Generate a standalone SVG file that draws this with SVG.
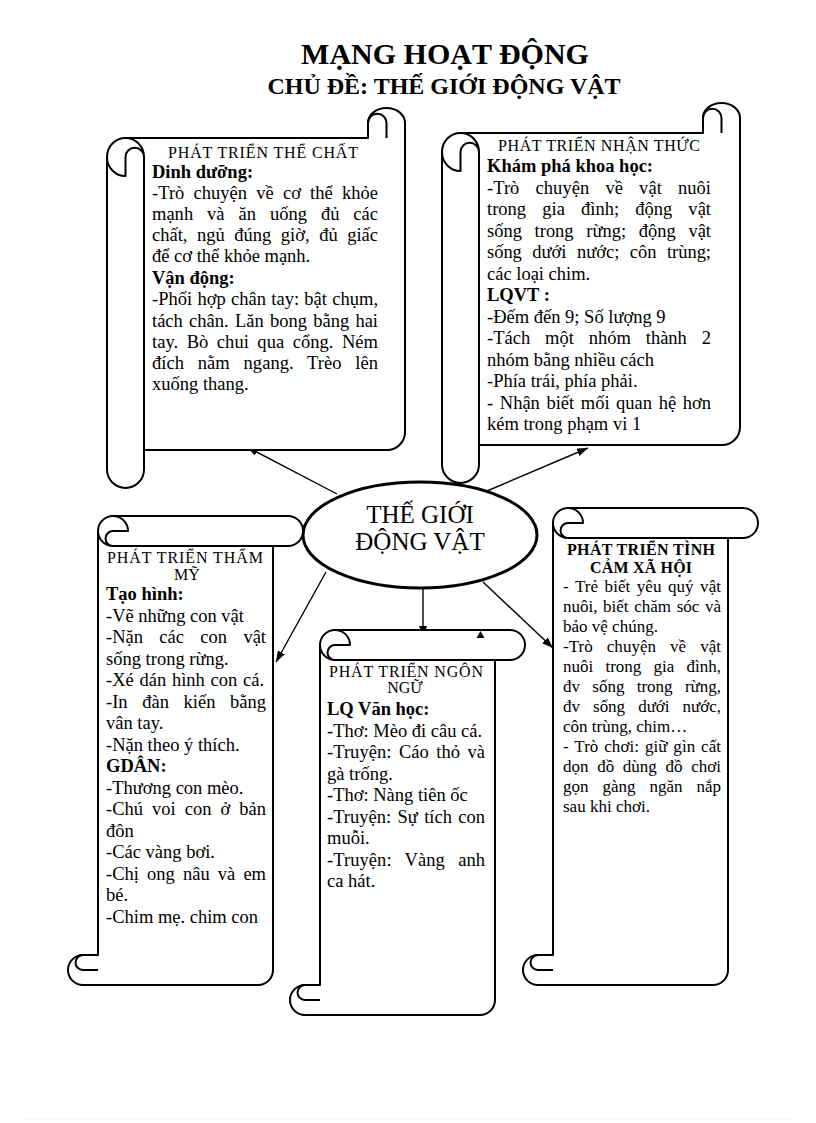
<svg xmlns="http://www.w3.org/2000/svg" xmlns:xlink="http://www.w3.org/1999/xlink" width="816" height="1123" viewBox="0 0 816 1123">
<style>
.sc{fill:#fff;stroke:#000;stroke-width:2;stroke-linejoin:round}
.ln{fill:none;stroke:#000;stroke-width:2;stroke-linejoin:round}
.cn{fill:none;stroke:#000;stroke-width:1.4}
text{font-family:"Liberation Serif","Times New Roman",serif;fill:#000}
.t{font-size:18.5px}
.s{font-size:17px}
.b{font-weight:bold}
.h{font-size:16px}
.c{text-anchor:middle}
</style>
<defs>
<marker id="ah" markerUnits="userSpaceOnUse" markerWidth="11" markerHeight="8" refX="11" refY="4" orient="auto">
<path d="M0,0 L11,4 L0,8 Z" fill="#000"/>
</marker>
<g id="vs">
<path class="sc" d="M18.5,30 H261 V15 A18.5,15 0 0 1 298,15 V324 A18,18 0 0 1 280,342 H37 V361.5 A18.5,18.5 0 0 1 0,361.5 V49 A18.5,19 0 0 1 18.5,30 Z"/>
<path class="ln" d="M37,49 V361.5 M18.5,30 A18.5,19 0 0 1 37,49 M0,49 A18.5,19 0 0 0 18.5,68 V49 A9.25,9.25 0 0 1 37,49 M279.5,30 V15 A9.25,9.25 0 0 0 261,15"/>
</g>
</defs>
<rect width="816" height="1123" fill="#fff"/>
<line x1="25" y1="1119" x2="795" y2="1119" stroke="#d8d8d8" stroke-width="1" stroke-dasharray="1 3"/>

<g id="title">
<text class="b c" x="445" y="64" font-size="30">MẠNG HOẠT ĐỘNG</text>
<text class="b c" x="444" y="94" font-size="24">CHỦ ĐỀ: THẾ GIỚI ĐỘNG VẬT</text>
</g>

<g id="connectors">
<path class="cn" d="M337,494 L247,447" marker-end="url(#ah)"/>
<path class="cn" d="M487,491 L588,448" marker-end="url(#ah)"/>
<path class="cn" d="M326,572 L276,662" marker-end="url(#ah)"/>
<path class="cn" d="M423,589 L423,637" marker-end="url(#ah)"/>
<path class="cn" d="M483,582 L553,648" marker-end="url(#ah)"/>
</g>

<g id="node-the-chat">
<use xlink:href="#vs" href="#vs" transform="translate(107,108)"/>
<text class="h c" x="263" y="158" textLength="190" lengthAdjust="spacing">PHÁT TRIỂN THỂ CHẤT</text>
<text class="t b" x="152" y="178">Dinh dưỡng:</text>
<text class="t" x="152" y="199" word-spacing="4.5" textLength="226" lengthAdjust="spacing">-Trò chuyện về cơ thể khỏe</text>
<text class="t" x="152" y="220" word-spacing="9.3" textLength="226" lengthAdjust="spacing">mạnh và ăn uống đủ các</text>
<text class="t" x="152" y="241" word-spacing="4.9" textLength="226" lengthAdjust="spacing">chất, ngủ đúng giờ, đủ giấc</text>
<text class="t" x="152" y="262">để cơ thể khỏe mạnh.</text>
<text class="t b" x="152" y="283.5">Vận động:</text>
<text class="t" x="152" y="305" word-spacing="0.7" textLength="226" lengthAdjust="spacing">-Phối hợp chân tay: bật chụm,</text>
<text class="t" x="152" y="326.5" word-spacing="1.6" textLength="226" lengthAdjust="spacing">tách chân. Lăn bong bằng hai</text>
<text class="t" x="152" y="348" word-spacing="3.8" textLength="226" lengthAdjust="spacing">tay. Bò chui qua cổng. Ném</text>
<text class="t" x="152" y="369" word-spacing="9.1" textLength="226" lengthAdjust="spacing">đích nằm ngang. Trèo lên</text>
<text class="t" x="152" y="390">xuống thang.</text>
</g>

<g id="node-nhan-thuc">
<use xlink:href="#vs" href="#vs" transform="translate(442,103)"/>
<text class="h c" x="599" y="151" textLength="202" lengthAdjust="spacing">PHÁT TRIỂN NHẬN THỨC</text>
<text class="t b" x="487" y="172">Khám phá khoa học:</text>
<text class="t" x="487" y="193.5" word-spacing="11.5" textLength="224" lengthAdjust="spacing">-Trò chuyện về vật nuôi</text>
<text class="t" x="487" y="215" word-spacing="11.5" textLength="224" lengthAdjust="spacing">trong gia đình; động vật</text>
<text class="t" x="487" y="236.5" word-spacing="8.1" textLength="224" lengthAdjust="spacing">sống trong rừng; động vật</text>
<text class="t" x="487" y="258" word-spacing="5.9" textLength="224" lengthAdjust="spacing">sống dưới nước; côn trùng;</text>
<text class="t" x="487" y="279.5">các loại chim.</text>
<text class="t b" x="487" y="301">LQVT :</text>
<text class="t" x="487" y="322.5">-Đếm đến 9; Số lượng 9</text>
<text class="t" x="487" y="344" word-spacing="10.3" textLength="224" lengthAdjust="spacing">-Tách một nhóm thành 2</text>
<text class="t" x="487" y="365.5">nhóm bằng nhiều cách</text>
<text class="t" x="487" y="387">-Phía trái, phía phải.</text>
<text class="t" x="487" y="408.5" word-spacing="2" textLength="224" lengthAdjust="spacing">- Nhận biết mối quan hệ hơn</text>
<text class="t" x="487" y="430">kém trong phạm vi 1</text>
</g>

<g id="node-center">
<ellipse cx="420" cy="535" rx="117" ry="53" fill="#fff" stroke="#000" stroke-width="3"/>
<text class="c" x="420" y="523" font-size="25">THẾ GIỚI</text>
<text class="c" x="420" y="550" font-size="25">ĐỘNG VẬT</text>
</g>

<g id="node-tham-my">
<g transform="translate(68,516)">
<path class="sc" d="M30,15 V439 H15 A15,15 0 0 0 15,469 H190 A15,15 0 0 0 205,454 V30 H220 A15,15 0 0 0 220,0 H45 A15,15 0 0 0 30,15 Z"/>
<path class="ln" d="M45,30 H205 M30,15 A15,15 0 0 0 45,30 M45,0 A15,15 0 0 1 60,15 H45 A7.5,7.5 0 0 0 45,30 M30,454 H15 A7.5,7.5 0 0 1 15,439"/>
</g>
<text class="h c" x="185" y="563" textLength="156" lengthAdjust="spacing">PHÁT TRIỂN THẨM</text>
<text class="h c" x="187" y="580">MỸ</text>
<text class="t b" x="106" y="600">Tạo hình:</text>
<text class="t" x="106" y="621.5">-Vẽ những con vật</text>
<text class="t" x="106" y="643" word-spacing="11.7" textLength="160" lengthAdjust="spacing">-Nặn các con vật</text>
<text class="t" x="106" y="664.5">sống trong rừng.</text>
<text class="t" x="106" y="686" word-spacing="1.1" textLength="158" lengthAdjust="spacing">-Xé dán hình con cá.</text>
<text class="t" x="106" y="707.5" word-spacing="10" textLength="160" lengthAdjust="spacing">-In đàn kiến bằng</text>
<text class="t" x="106" y="729">vân tay.</text>
<text class="t" x="106" y="750.5">-Nặn theo ý thích.</text>
<text class="t b" x="106" y="772">GDÂN:</text>
<text class="t" x="106" y="793.5">-Thương con mèo.</text>
<text class="t" x="106" y="815" word-spacing="4.4" textLength="160" lengthAdjust="spacing">-Chú voi con ở bản</text>
<text class="t" x="106" y="836.5">đôn</text>
<text class="t" x="106" y="858">-Các vàng bơi.</text>
<text class="t" x="106" y="879.5" word-spacing="3.5" textLength="160" lengthAdjust="spacing">-Chị ong nâu và em</text>
<text class="t" x="106" y="901">bé.</text>
<text class="t" x="106" y="922.5">-Chim mẹ. chim con</text>
</g>

<g id="node-ngon-ngu">
<g transform="translate(290,630)">
<path class="sc" d="M30,15 V355 H15 A15,15 0 0 0 15,385 H190 A15,15 0 0 0 205,370 V30 H220 A15,15 0 0 0 220,0 H45 A15,15 0 0 0 30,15 Z"/>
<path class="ln" d="M45,30 H205 M30,15 A15,15 0 0 0 45,30 M45,0 A15,15 0 0 1 60,15 H45 A7.5,7.5 0 0 0 45,30 M30,370 H15 A7.5,7.5 0 0 1 15,355"/>
</g>
<polygon points="476.5,638 484.5,638 480.5,631" fill="#000"/>
<text class="h c" x="406" y="677" textLength="154" lengthAdjust="spacing">PHÁT TRIỂN NGÔN</text>
<text class="h c" x="405" y="693">NGỮ</text>
<text class="t b" x="327" y="715">LQ Văn học:</text>
<text class="t" x="327" y="736.5">-Thơ: Mèo đi câu cá.</text>
<text class="t" x="327" y="758" word-spacing="2.8" textLength="158" lengthAdjust="spacing">-Truyện: Cáo thỏ và</text>
<text class="t" x="327" y="779.5">gà trống.</text>
<text class="t" x="327" y="801">-Thơ: Nàng tiên ốc</text>
<text class="t" x="327" y="822.5" word-spacing="1.6" textLength="158" lengthAdjust="spacing">-Truyện: Sự tích con</text>
<text class="t" x="327" y="844">muỗi.</text>
<text class="t" x="327" y="865.5" word-spacing="8.6" textLength="158" lengthAdjust="spacing">-Truyện: Vàng anh</text>
<text class="t" x="327" y="887">ca hát.</text>
</g>

<g id="node-tinh-cam">
<g transform="translate(523,508)">
<path class="sc" d="M30,15 V447 H15 A15,15 0 0 0 15,477 H190 A15,15 0 0 0 205,462 V30 H220 A15,15 0 0 0 220,0 H45 A15,15 0 0 0 30,15 Z"/>
<path class="ln" d="M45,30 H205 M30,15 A15,15 0 0 0 45,30 M45,0 A15,15 0 0 1 60,15 H45 A7.5,7.5 0 0 0 45,30 M30,462 H15 A7.5,7.5 0 0 1 15,447"/>
</g>
<text class="h b c" x="641" y="555" textLength="148" lengthAdjust="spacing">PHÁT TRIỂN TÌNH</text>
<text class="h b c" x="641" y="573" textLength="102" lengthAdjust="spacing">CẢM XÃ HỘI</text>
<text class="s" x="563" y="592" word-spacing="2.2" textLength="158" lengthAdjust="spacing">- Trẻ biết yêu quý vật</text>
<text class="s" x="563" y="612" word-spacing="1.4" textLength="158" lengthAdjust="spacing">nuôi, biết chăm sóc và</text>
<text class="s" x="563" y="632">bảo vệ chúng.</text>
<text class="s" x="563" y="652" word-spacing="9.7" textLength="158" lengthAdjust="spacing">-Trò chuyện về vật</text>
<text class="s" x="563" y="672" word-spacing="8" textLength="158" lengthAdjust="spacing">nuôi trong gia đình,</text>
<text class="s" x="563" y="692" word-spacing="8.1" textLength="158" lengthAdjust="spacing">đv sống trong rừng,</text>
<text class="s" x="563" y="712" word-spacing="8.9" textLength="158" lengthAdjust="spacing">đv sống dưới nước,</text>
<text class="s" x="563" y="732">côn trùng, chim…</text>
<text class="s" x="563" y="752" word-spacing="1.6" textLength="158" lengthAdjust="spacing">- Trò chơi: giữ gìn cất</text>
<text class="s" x="563" y="772" word-spacing="4.4" textLength="158" lengthAdjust="spacing">dọn đồ dùng đồ chơi</text>
<text class="s" x="563" y="792" word-spacing="9.7" textLength="158" lengthAdjust="spacing">gọn gàng ngăn nắp</text>
<text class="s" x="563" y="812">sau khi chơi.</text>
</g>
</svg>
